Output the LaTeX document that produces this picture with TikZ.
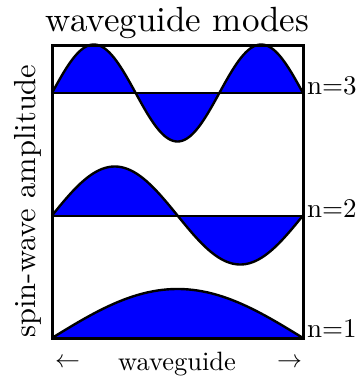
\documentclass[tikz,border=0pt]{standalone}
\usepackage{fontspec}
\setmainfont{lmroman10-regular.otf}
\begin{document}
\begin{tikzpicture}[x=1pt,y=-1pt,
  modefill/.style={fill=blue},
  modecurve/.style={line width=2.4pt,line join=round},
  baseline line/.style={line width=2pt},
  frame/.style={line width=3pt},
  lbl/.style={inner sep=0pt,font=\fontsize{27}{32}\selectfont}]
\useasboundingbox (0,0) rectangle (357,376);
% n=3
\fill[modefill] plot[domain=52:303,samples=150,smooth] (\x,{93-48.5*sin((\x-52)/251*540)}) -- cycle;
\draw[modecurve] plot[domain=52:303,samples=150,smooth] (\x,{93-48.5*sin((\x-52)/251*540)});
\draw[baseline line] (52,93) -- (303,93);
% n=2
\fill[modefill] plot[domain=52:303,samples=150,smooth] (\x,{215.5-49*sin((\x-52)/251*360)}) -- cycle;
\draw[modecurve] plot[domain=52:303,samples=150,smooth] (\x,{215.5-49*sin((\x-52)/251*360)});
\draw[baseline line] (52,215.5) -- (303,215.5);
% n=1
\fill[modefill] plot[domain=52:303,samples=150,smooth] (\x,{338-49*sin((\x-52)/251*180)}) -- cycle;
\draw[modecurve] plot[domain=52:303,samples=150,smooth] (\x,{338-49*sin((\x-52)/251*180)});
% frame
\draw[frame] (52,45) rectangle (303,338);
% labels
\node[lbl,anchor=base west] (n3) at (307,94) {n=3};
\node[lbl,anchor=base west] (n2) at (307,217) {n=2};
\node[lbl,anchor=base west] (n1) at (307,337) {n=1};
\node[inner sep=0pt,anchor=base,font=\fontsize{35}{40}\selectfont] (title) at (177.5,31) {waveguide modes};
\node[inner sep=0pt,anchor=base,rotate=90,font=\fontsize{30.5}{36}\selectfont] (ylab) at (35,201) {spin-wave amplitude};
\node[inner sep=0pt,anchor=base,font=\fontsize{26.5}{30}\selectfont] (xlab) at (177,370) {waveguide};
\node[inner sep=0pt,font=\fontsize{25}{30}\selectfont] (la) at (67.5,363) {$\leftarrow$};
\node[inner sep=0pt,font=\fontsize{25}{30}\selectfont] (ra) at (289.5,363) {$\rightarrow$};
\end{tikzpicture}
\end{document}
